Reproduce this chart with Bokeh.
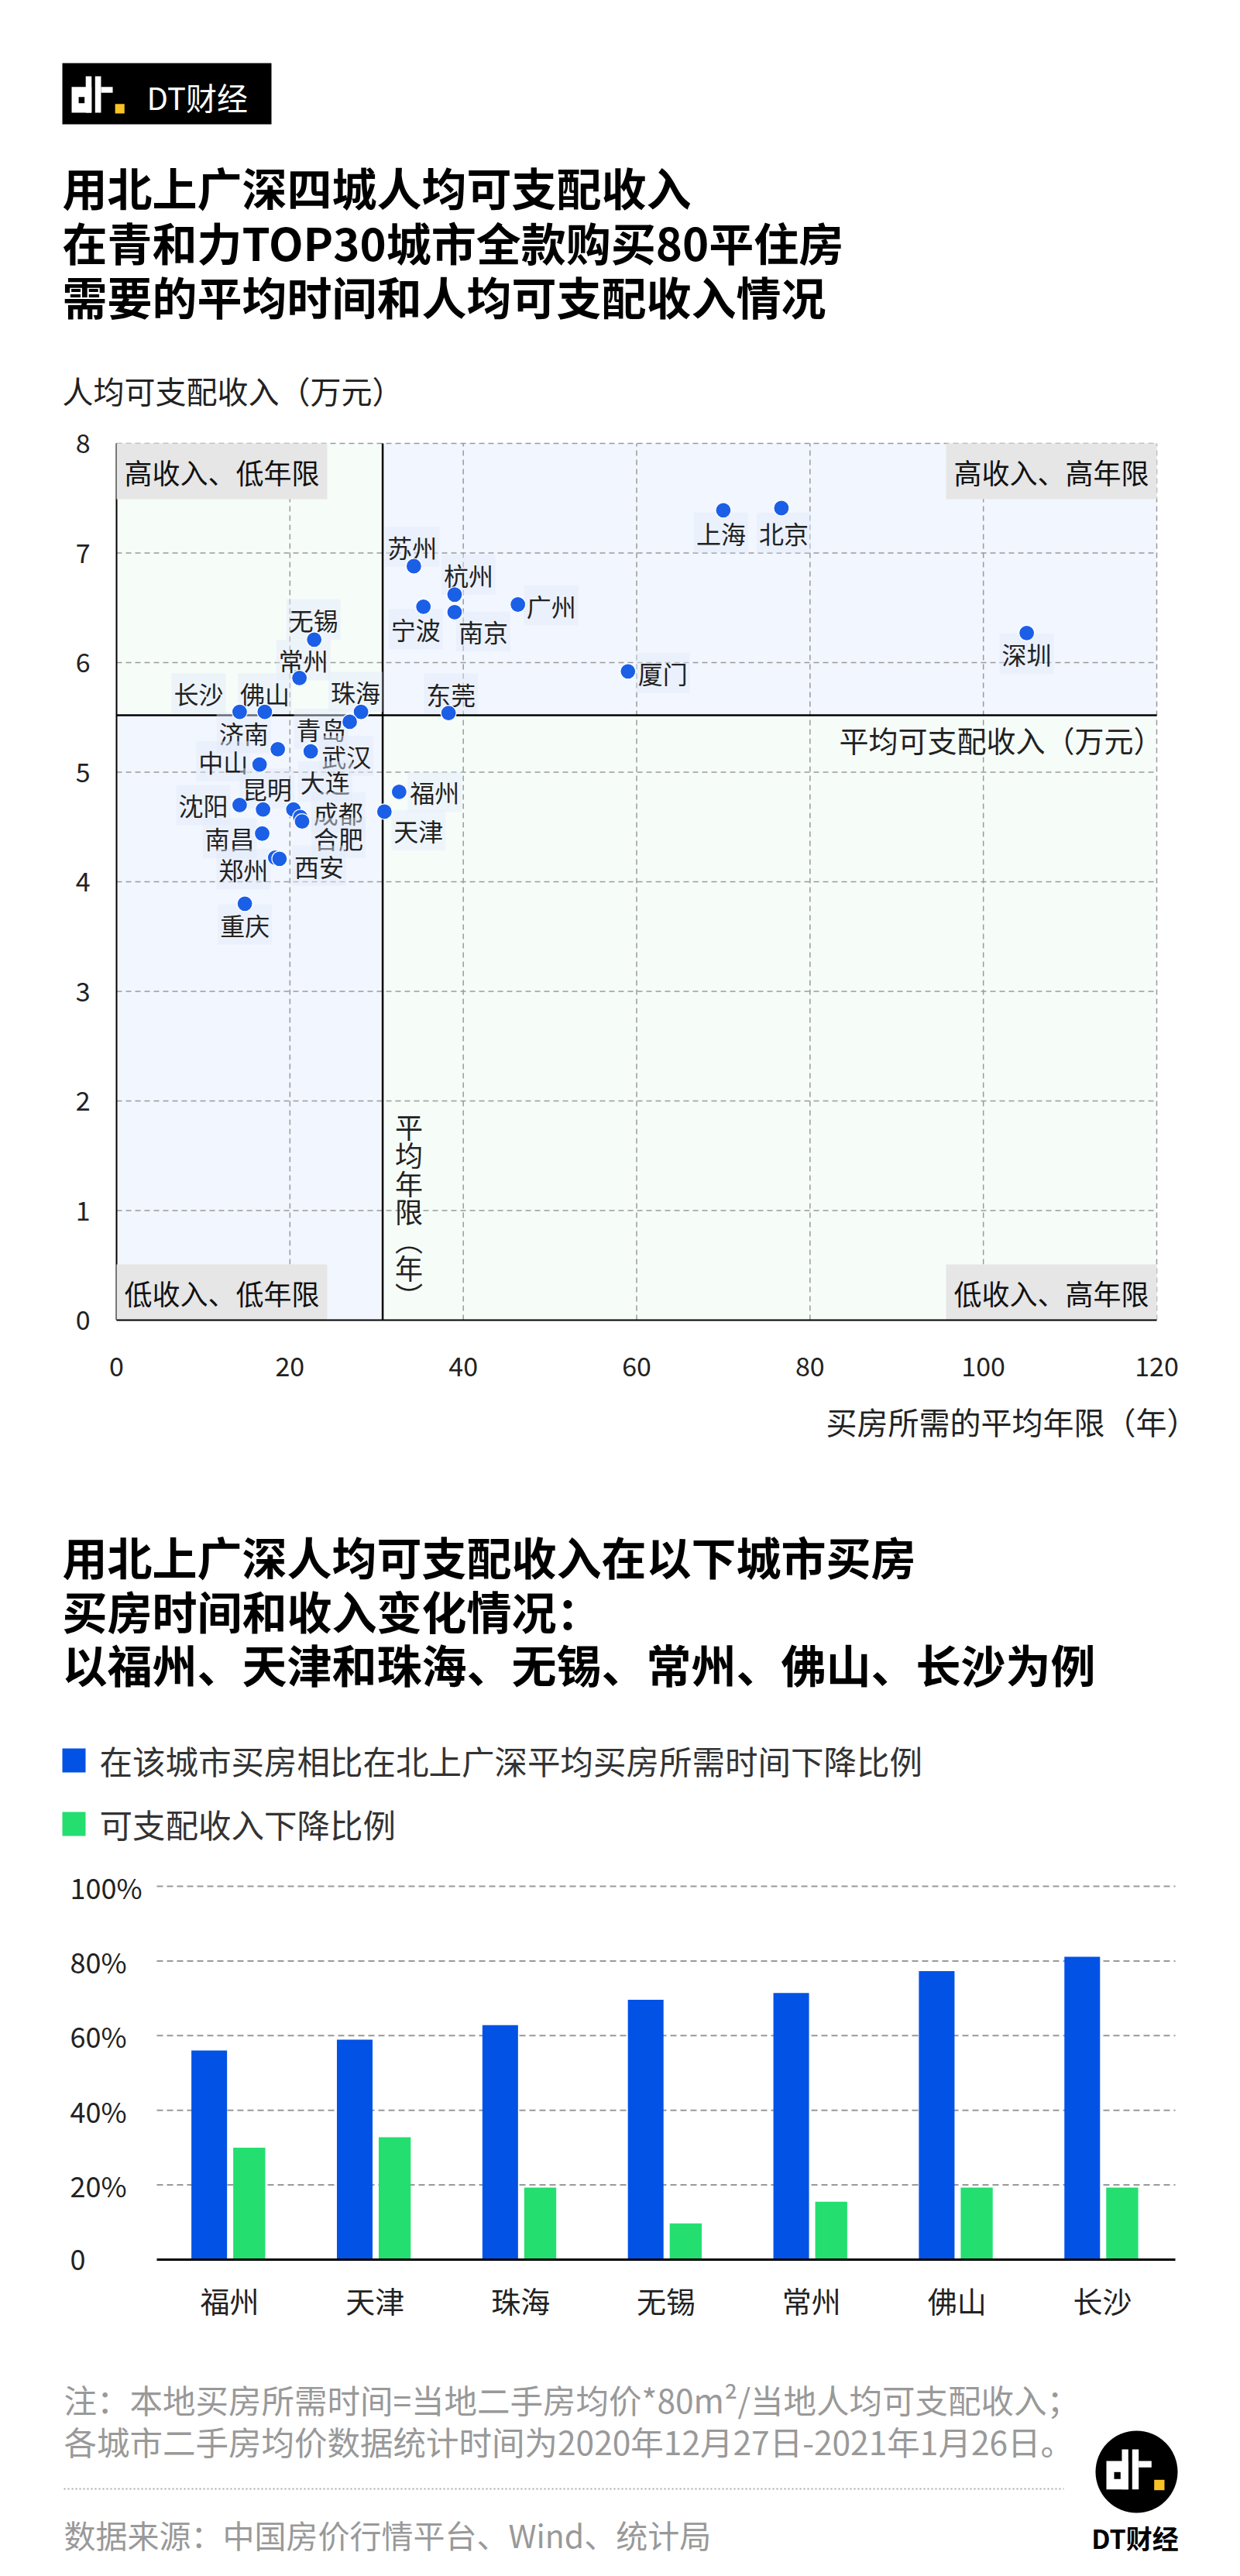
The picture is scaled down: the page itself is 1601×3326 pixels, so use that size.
from bokeh.plotting import figure
from bokeh.layouts import column
from bokeh.models import Range1d, FixedTicker, ColumnDataSource
from bokeh.transform import dodge
from bokeh.core.properties import value
from bokeh.embed import file_html
from bokeh.resources import INLINE

FONT = "Noto Sans CJK SC"
W = 1601

# ---------------- data ----------------
cities = ["北京", "上海", "深圳", "广州", "苏州", "杭州", "南京", "宁波", "无锡", "常州",
          "厦门", "东莞", "珠海", "长沙", "佛山", "青岛", "济南", "武汉", "中山", "福州",
          "天津", "沈阳", "昆明", "大连", "成都", "合肥", "南昌", "郑州", "西安", "重庆"]
years = [76.7, 70.0, 105.0, 46.3, 34.3, 39.0, 39.0, 35.4, 22.8, 21.1,
         59.0, 38.3, 28.2, 14.2, 17.1, 26.9, 18.6, 22.4, 16.5, 32.6,
         30.9, 14.2, 16.9, 20.4, 21.2, 21.4, 16.8, 18.3, 18.8, 14.8]
income = [7.41, 7.39, 6.27, 6.53, 6.88, 6.62, 6.46, 6.51, 6.21, 5.86,
          5.92, 5.54, 5.55, 5.55, 5.55, 5.46, 5.21, 5.19, 5.07, 4.82,
          4.64, 4.70, 4.66, 4.66, 4.59, 4.55, 4.44, 4.22, 4.21, 3.80]
AVG_YEARS = 30.7
AVG_INCOME = 5.52
x_ticks = [0, 20, 40, 60, 80, 100, 120]
y_ticks = [0, 1, 2, 3, 4, 5, 6, 7, 8]
X_MAX, Y_MAX = 120, 8

bar_cities = ["福州", "天津", "珠海", "无锡", "常州", "佛山", "长沙"]
time_drop = [56.0, 58.9, 62.8, 69.6, 71.4, 77.3, 81.1]
income_drop = [30.0, 32.8, 19.3, 9.7, 15.5, 19.3, 19.3]
pct_ticks = [0, 20, 40, 60, 80, 100]
pct_labels = ["0", "20%", "40%", "60%", "80%", "100%"]

# label placement (screen px offsets from the point)
LABEL_OFFSETS = {
    "苏州": (-2, -25), "杭州": (18, -26), "宁波": (-10, 29), "南京": (37, 25), "广州": (43, 1),
    "无锡": (-1, -26), "常州": (5, -23), "长沙": (-53, -24), "佛山": (0, -24), "珠海": (-7, -26),
    "青岛": (-37, 9), "东莞": (3, -25), "厦门": (45, 2), "济南": (-44, -21), "武汉": (46, 6),
    "中山": (-47, -4), "福州": (46, 0), "天津": (44, 24), "沈阳": (-47, 0), "昆明": (5, -27),
    "大连": (41, -36), "成都": (49, -6), "合肥": (47, 21), "南昌": (-42, 6), "郑州": (-41, 15),
    "西安": (51, 9), "重庆": (0, 27), "上海": (-3, 29), "北京": (3, 32), "深圳": (0, 27),
}

PT_BLUE = "#1b5fe7"
BAR_BLUE = "#0352e6"
BAR_GREEN = "#24de70"
TXT = "#222222"
GRID = "#9a9a9a"


def base(p):
    p.outline_line_color = None
    p.background_fill_color = "white"
    p.border_fill_color = "white"
    return p


def canvas(h):
    p = figure(width=W, height=h, x_range=Range1d(0, W), y_range=Range1d(h, 0),
               x_axis_type=None, y_axis_type=None, title=None,
               output_backend="svg", toolbar_location=None, min_border=0)
    return base(p)


def txt(p, x, y, s, size, color=TXT, bold=False, align="left", baseline="middle", **kw):
    p.text(x=[x], y=[y], text=[s], text_font=value(FONT), text_font_size=size,
           text_font_style="bold" if bold else "normal", text_color=color,
           text_align=align, text_baseline=baseline, **kw)


def dt_logo(p, x0, y0, s):
    white = [(0, 28.3, 15, 51.7), (20, 28.3, 0, 51.7), (33.3, 41.7, 0, 51.7), (41.7, 58.3, 15, 23.3)]
    p.quad(left=[x0 + a * s for a, b, c, d in white], right=[x0 + b * s for a, b, c, d in white],
           top=[y0 + c * s for a, b, c, d in white], bottom=[y0 + d * s for a, b, c, d in white],
           fill_color="white", line_color=None)
    p.quad(left=[x0 + 10 * s], right=[x0 + 18.3 * s], top=[y0 + 29.3 * s], bottom=[y0 + 38.3 * s],
           fill_color="black", line_color=None)
    p.quad(left=[x0 + 61.7 * s], right=[x0 + 75 * s], top=[y0 + 39.3 * s], bottom=[y0 + 52.7 * s],
           fill_color="#f7c325", line_color=None)


# ---------------- header ----------------
f1 = canvas(545)
f1.quad(left=[80], right=[350], top=[81], bottom=[160], fill_color="black", line_color=None)
dt_logo(f1, 92, 98, 0.91)
txt(f1, 189, 124, "DT财经", "40px", color="white")
for yy, line in zip([240, 311, 381], ["用北上广深四城人均可支配收入",
                                      "在青和力TOP30城市全款购买80平住房",
                                      "需要的平均时间和人均可支配收入情况"]):
    txt(f1, 80, yy, line, "58px", color="black", bold=True)
txt(f1, 80, 503, "人均可支配收入（万元）", "40px")

# ---------------- scatter ----------------
# frame spans the full width; data 0..120 sits at px 150..1493, 0..8 at 1132 px height
kx = (1493 - 150) / X_MAX
ky = 1132 / Y_MAX
f2 = figure(width=W, height=1255,
            x_range=Range1d(-150 / kx, X_MAX + (W - 1493) / kx),
            y_range=Range1d(0, (1255 - 96) / ky),
            y_axis_type=None, title=None, output_backend="svg", toolbar_location=None,
            min_border=0, min_border_bottom=96)
base(f2)
f2.xgrid.visible = False
ax = f2.xaxis
ax.bounds = (0, X_MAX)
ax.ticker = FixedTicker(ticks=x_ticks)
ax.axis_line_color = "black"
ax.axis_line_width = 2
ax.major_tick_in = 0
ax.major_tick_out = 0
ax.minor_tick_line_color = None
ax.major_label_text_font = FONT
ax.major_label_text_font_size = "34px"
ax.major_label_text_color = TXT
ax.major_label_standoff = 47

f2.quad(left=[0, AVG_YEARS, 0, AVG_YEARS], right=[AVG_YEARS, X_MAX, AVG_YEARS, X_MAX],
        bottom=[AVG_INCOME, AVG_INCOME, 0, 0], top=[Y_MAX, Y_MAX, AVG_INCOME, AVG_INCOME],
        fill_color=["#f6fcf8", "#f2f6fe", "#f2f6fe", "#f6fdf9"], line_color=None, level="image")
# dashed grid
f2.segment(x0=x_ticks[1:], y0=[0] * (len(x_ticks) - 1), x1=x_ticks[1:], y1=[Y_MAX] * (len(x_ticks) - 1),
           line_color=GRID, line_width=1.5, line_dash="7 5", level="underlay")
f2.segment(x0=[0] * (len(y_ticks) - 1), y0=y_ticks[1:], x1=[X_MAX] * (len(y_ticks) - 1), y1=y_ticks[1:],
           line_color=GRID, line_width=1.5, line_dash="7 5", level="underlay")
# y axis line + quadrant dividers
f2.segment(x0=[0, AVG_YEARS, 0], y0=[0, 0, AVG_INCOME], x1=[0, AVG_YEARS, X_MAX], y1=[Y_MAX, Y_MAX, AVG_INCOME],
           line_color="black", line_width=[2, 2.5, 2.5], level="underlay")
# y tick labels
f2.text(x=[0] * len(y_ticks), y=y_ticks, text=[str(t) for t in y_ticks], x_offset=-34,
        text_font=value(FONT), text_font_size="34px", text_color=TXT,
        text_align="right", text_baseline="middle", level="annotation")

src = ColumnDataSource(dict(city=cities, years=years, income=income,
                            dx=[LABEL_OFFSETS[c][0] for c in cities],
                            dy=[LABEL_OFFSETS[c][1] for c in cities]))
f2.text(x="years", y="income", text="city", x_offset="dx", y_offset="dy", source=src,
        text_font=value(FONT), text_font_size="32px", text_color=TXT,
        text_align="center", text_baseline="middle",
        background_fill_color="#e3ebfb", background_fill_alpha=0.45, padding=3)
f2.scatter(x="years", y="income", source=src, size=20, fill_color=PT_BLUE,
           line_color="white", line_width=1.2)

for (cx, cy, s, al, bl) in [(0, Y_MAX, "高收入、低年限", "left", "top"),
                            (X_MAX, Y_MAX, "高收入、高年限", "right", "top"),
                            (0, 0, "低收入、低年限", "left", "bottom"),
                            (X_MAX, 0, "低收入、高年限", "right", "bottom")]:
    f2.text(x=[cx], y=[cy], text=[s], text_font=value(FONT), text_font_size="36px",
            text_color="#111111", text_align=al, text_baseline=bl,
            background_fill_color="#e6e6e6", padding=10)

f2.text(x=[X_MAX], y=[AVG_INCOME], text=["平均可支配收入（万元）"], x_offset=8, y_offset=31,
        text_font=value(FONT), text_font_size="38px", text_color=TXT,
        text_align="right", text_baseline="middle")
f2.text(x=[AVG_YEARS], y=[0], text=["平\n均\n年\n限\n︵\n年\n︶"], x_offset=34, y_offset=-6,
        text_font=value(FONT), text_font_size="36px", text_color=TXT,
        text_align="center", text_baseline="bottom", text_line_height=0.7)

# ---------------- second title + legend ----------------
f3 = canvas(600)
txt(f3, 1546, 34, "买房所需的平均年限（年）", "40px", align="right")
for yy, line in zip([208, 278, 347], ["用北上广深人均可支配收入在以下城市买房",
                                      "买房时间和收入变化情况：",
                                      "以福州、天津和珠海、无锡、常州、佛山、长沙为例"]):
    txt(f3, 80, yy, line, "58px", color="black", bold=True)
f3.quad(left=[80], right=[110], top=[457], bottom=[488], fill_color=BAR_BLUE, line_color=None)
txt(f3, 128, 472, "在该城市买房相比在北上广深平均买房所需时间下降比例", "42.5px", color="#333333")
f3.quad(left=[80], right=[110], top=[539], bottom=[570], fill_color=BAR_GREEN, line_color=None)
txt(f3, 128, 554, "可支配收入下降比例", "42.5px", color="#333333")

# ---------------- bar chart ----------------
n_cat = len(bar_cities)
cat_pos = [i + 0.5 for i in range(n_cat)]
kb = (1517 - 202) / n_cat
kp = 4.82
f4 = figure(width=W, height=610,
            x_range=Range1d(-202 / kb, n_cat + (W - 1517) / kb),
            y_range=Range1d(0, (610 - 16 - 93) / kp),
            y_axis_type=None, title=None, output_backend="svg", toolbar_location=None,
            min_border=0, min_border_top=16, min_border_bottom=93)
base(f4)
f4.xgrid.visible = False
f4.segment(x0=[0] * (len(pct_ticks) - 1), y0=pct_ticks[1:], x1=[n_cat] * (len(pct_ticks) - 1), y1=pct_ticks[1:],
           line_color="#999999", line_width=2, line_dash="8 5", level="underlay")
bsrc = ColumnDataSource(dict(pos=cat_pos, t=time_drop, inc=income_drop))
f4.vbar(x=dodge("pos", -0.14), top="t", width=0.245, source=bsrc,
        fill_color=BAR_BLUE, line_color=None)
f4.vbar(x=dodge("pos", 0.135), top="inc", width=0.22, source=bsrc,
        fill_color=BAR_GREEN, line_color=None)
bx = f4.xaxis
bx.bounds = (0, n_cat)
bx.ticker = FixedTicker(ticks=cat_pos)
bx.major_label_overrides = {p: c for p, c in zip(cat_pos, bar_cities)}
bx.axis_line_color = "black"
bx.axis_line_width = 3
bx.major_tick_in = 0
bx.major_tick_out = 0
bx.minor_tick_line_color = None
bx.major_label_text_font = FONT
bx.major_label_text_font_size = "38px"
bx.major_label_text_color = TXT
bx.major_label_standoff = 24
f4.text(x=[0] * len(pct_ticks), y=pct_ticks, text=pct_labels, x_offset=-112,
        text_font=value(FONT), text_font_size="36px", text_color=TXT,
        text_align="left", text_baseline="middle", level="annotation")

# ---------------- footer ----------------
f5 = canvas(316)
txt(f5, 82, 87, "注：本地买房所需时间=当地二手房均价*80m²/当地人均可支配收入；", "42.5px", color="#999999")
txt(f5, 82, 141, "各城市二手房均价数据统计时间为2020年12月27日-2021年1月26日。", "42.5px", color="#999999")
f5.line(x=[82, 1373], y=[203, 203], line_color="#aaaaaa", line_width=2, line_dash="2 3")
txt(f5, 82, 261, "数据来源：中国房价行情平台、Wind、统计局", "41px", color="#999999")
f5.scatter(x=[1467], y=[181], size=106, fill_color="black", line_color=None)
dt_logo(f5, 1428, 152, 1.0)
txt(f5, 1465, 266, "DT财经", "34px", color="black", bold=True, align="center")

layout = column(f1, f2, f3, f4, f5, spacing=0)
open("out.html", "w").write(file_html(layout, INLINE))
